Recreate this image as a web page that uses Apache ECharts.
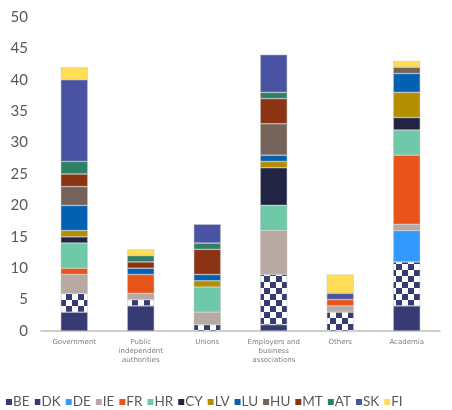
<!DOCTYPE html>
<html><head><meta charset="utf-8">
<script src="https://cdn.jsdelivr.net/npm/echarts@6/dist/echarts.min.js"></script>
<style>html,body{margin:0;padding:0;background:#fff}#c{width:452px;height:410px}</style>
</head><body><div id="c"></div>
<script>
const categories = ['Government','Public\nindependent\nauthorities','Unions','Employers and\nbusiness\nassociations','Others','Academia'];
const yTicks = [0,5,10,15,20,25,30,35,40,45,50];
const countries = ['BE','DK','DE','IE','FR','HR','CY','LV','LU','HU','MT','AT','SK','FI'];
const BE = [3,4,0,1,0,4];
const DK = [3,1,1,8,3,7];
const DE = [0,0,0,0,0,5];
const IE = [3,1,2,7,1,1];
const FR = [1,3,0,0,1,11];
const HR = [4,0,4,4,0,4];
const CY = [1,0,0,6,0,2];
const LV = [1,0,1,1,0,4];
const LU = [4,1,1,1,0,3];
const HU = [3,0,0,5,0,1];
const MT = [2,1,4,4,0,0];
const AT = [2,1,1,1,0,0];
const SK = [13,0,3,6,1,0];
const FI = [2,1,0,0,3,1];
const values = {BE,DK,DE,IE,FR,HR,CY,LV,LU,HU,MT,AT,SK,FI};

function checker(){
  const c=document.createElement('canvas'); c.width=c.height=12;
  const g=c.getContext('2d');
  g.fillStyle='#ffffff'; g.fillRect(0,0,12,12);
  g.fillStyle='#363B73'; g.fillRect(0,0,6,6); g.fillRect(6,6,6,6);
  return {image:c, repeat:'repeat'};
}
const colors = {
  BE:'#363B73', DK:checker(), DE:'#3399FF', IE:'#B8A9A2', FR:'#E8541A', HR:'#6DC9A8',
  CY:'#222444', LV:'#B38F00', LU:'#0461B1', HU:'#75635A', MT:'#8B3312', AT:'#2F8166',
  SK:'#4A53A3', FI:'#FFDD55'
};
const series = countries.map(k => ({
  name:k, type:'bar', stack:'s', barWidth:27,
  data: values[k].map(v => v === 0 ? null : v),
  itemStyle:{color:colors[k], borderColor:'rgba(190,190,190,0.8)', borderWidth:0.6}
}));
const chart = echarts.init(document.getElementById('c'));
chart.setOption({
  animation:false,
  grid:{left:41,right:12,top:17,bottom:79},
  xAxis:{type:'category',data:categories,
    axisLine:{lineStyle:{color:'#bfbfbf',width:1.5}},axisTick:{show:false},
    axisLabel:{color:'#7f7f7f',fontSize:7,lineHeight:9,margin:7,interval:0,fontFamily:'DejaVu Sans'}},
  yAxis:{type:'value',min:yTicks[0],max:yTicks[yTicks.length-1],interval:5,
    splitLine:{show:false},axisLine:{show:false},axisTick:{show:false},
    axisLabel:{color:'#595959',fontSize:15,margin:13,fontFamily:'Lato'}},
  legend:{top:395,left:6,right:0,padding:0,itemWidth:6,itemHeight:6,itemGap:5,icon:'rect',
    itemStyle:{borderWidth:0},
    textStyle:{color:'#595959',fontSize:13.5,fontFamily:'Lato',padding:[0,0,0,-4]},
    data:countries},
  series
});
</script></body></html>
